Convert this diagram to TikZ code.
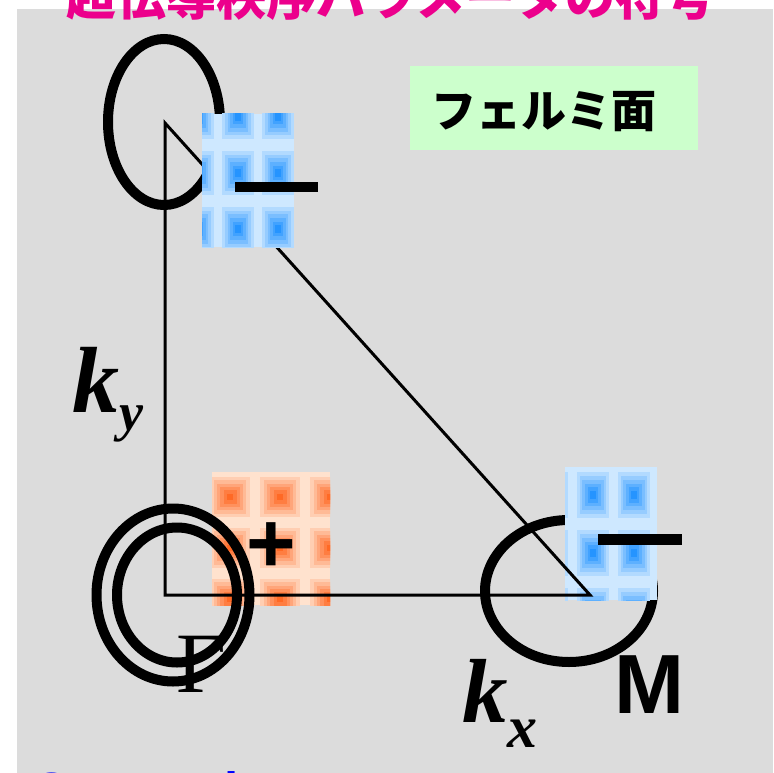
\documentclass[tikz,border=0pt]{standalone}
\usepackage{fontspec}
\setmainfont{Liberation Serif}
\newfontfamily\sansfont{Liberation Sans}
\newfontfamily\cjkfont{Noto Sans CJK JP}

\definecolor{slidegray}{RGB}{220,220,220}
\definecolor{blulight}{RGB}{206,232,255}
\definecolor{bludark}{RGB}{30,144,255}
\definecolor{redlight}{RGB}{255,226,206}
\definecolor{reddark}{RGB}{255,100,30}
\definecolor{fermigreen}{RGB}{204,255,204}

% tiled patch of the order parameter: colour prefix, corners, first cell centre, pitch
\newcommand{\orderpatch}[9]{%
  \begin{scope}
    \clip (#2,#3) rectangle (#4,#5);
    \fill[#1light] (#2,#3) rectangle (#4,#5);
    \foreach \ci in {-1,...,3}
      \foreach \cj in {-1,...,3}
        \foreach \lv in {1,...,6} {
          \pgfmathsetmacro\hw{#8*(0.46-0.066*\lv)}
          \pgfmathsetmacro\hh{#9*(0.46-0.066*\lv)}
          \pgfmathtruncatemacro\pct{\lv*16}
          \fill[#1dark!\pct!#1light]
            ({#6+\ci*#8-\hw},{#7+\cj*#9-\hh}) rectangle ({#6+\ci*#8+\hw},{#7+\cj*#9+\hh});
        }
  \end{scope}}

\begin{document}
\begin{tikzpicture}[x=1pt,y=-1pt,
  fs line/.style={line width=10pt},
  bz line/.style={line width=3pt},
  label/.style={inner sep=0pt}]
  \path[use as bounding box] (0,0) rectangle (773,773);
  \clip (0,0) rectangle (773,773);
  % slide background
  \fill[slidegray] (17,9) rectangle (773,773);
  \node[label,anchor=base,magenta] (title) at (391,16)
    {\cjkfont\bfseries\fontsize{50}{50}\selectfont 超伝導秩序パラメータの符号};
  % zone corners
  \coordinate (G) at (165,595);
  \coordinate (Y) at (165,123);
  \coordinate (M) at (590,595);
  \coordinate (topfs) at (164,122);
  \coordinate (mfs) at (569,591);
  \coordinate (gout) at (173,595);
  \coordinate (gin) at (177,595);
  % + patch at Gamma
  \orderpatch{red}{212}{472}{330}{605}{230}{497}{50}{51}
  % electron pocket at M
  \draw[fs line] (mfs) ellipse [x radius=84pt, y radius=71pt];
  \orderpatch{blu}{565}{467}{657}{600}{593}{495}{41}{58}
  % the triangle of the zone
  \draw[bz line] (Y) -- (G) -- (M) -- cycle;
  % pocket at the top corner
  \draw[fs line] (topfs) ellipse [x radius=56pt, y radius=83pt];
  \orderpatch{blu}{202}{114}{294}{247}{198}{117}{40}{56}
  % hole pockets at Gamma
  \draw[fs line] (gout) ellipse [x radius=76.5pt, y radius=86.5pt];
  \draw[fs line] (gin) ellipse [x radius=60pt, y radius=67.5pt];
  % signs
  \fill (235,182) rectangle (318,192);
  \fill (598,534) rectangle (682,545);
  \node[label] (plus) at (271,548) {\sansfont\bfseries\fontsize{85}{85}\selectfont +};
  % legend
  \node[fill=fermigreen,inner sep=0pt,minimum width=288pt,minimum height=84pt] (fsbox) at (554,108) {};
  \node[label] (fstext) at (543.5,112) {\cjkfont\bfseries\fontsize{45}{45}\selectfont フェルミ面};
  % axis and point labels
  \node[label,anchor=base west] (ky) at (72,412)
    {\fontsize{94}{94}\selectfont\bfseries\itshape k\raisebox{-18pt}{\fontsize{54}{54}\selectfont y}};
  \node[label,anchor=base west] (kx) at (462,722)
    {\fontsize{91}{91}\selectfont\bfseries\itshape k\raisebox{-25pt}{\fontsize{60}{60}\selectfont x}};
  \node[label,anchor=base] (gamma) at (201,692) {\fontsize{86}{86}\selectfont Γ};
  \node[label,anchor=base west] (mlabel) at (614,713) {\sansfont\bfseries\fontsize{84}{84}\selectfont M};
  \node[label,anchor=base west,blue] (note) at (32,808)
    {\sansfont\bfseries\fontsize{51}{51}\selectfont Comparison};
\end{tikzpicture}
\end{document}
